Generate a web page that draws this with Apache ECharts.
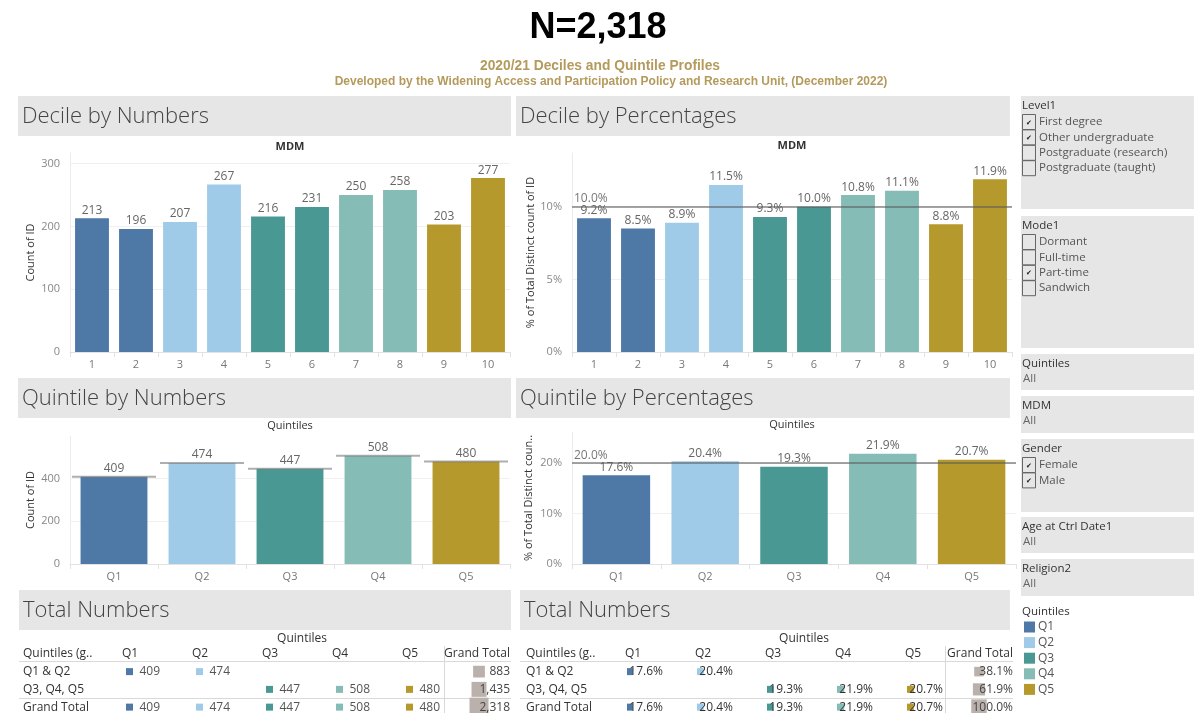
<!DOCTYPE html>
<html>
<head>
<meta charset="utf-8">
<script src="https://cdn.jsdelivr.net/npm/echarts@6/dist/echarts.min.js"></script>
<style>
html, body { margin: 0; padding: 0; background: #fff; }
#main { width: 1194px; height: 713px; }
</style>
</head>
<body>
<div id="main"></div>
<script>
// data
var deciles = ['1', '2', '3', '4', '5', '6', '7', '8', '9', '10'];
var decileCounts = [213, 196, 207, 267, 216, 231, 250, 258, 203, 277];
var decilePct = [9.2, 8.5, 8.9, 11.5, 9.3, 10.0, 10.8, 11.1, 8.8, 11.9];
var decileAvgPct = 10.0;

var quintiles = ['Q1', 'Q2', 'Q3', 'Q4', 'Q5'];
var quintileCounts = [409, 474, 447, 508, 480];
var quintilePct = [17.6, 20.4, 19.3, 21.9, 20.7];
var quintileAvgPct = 20.0;
var quintileColors = ['#4e79a7', '#a0cbe8', '#499894', '#86bcb6', '#b6992d'];

var groupRows = ['Q1 & Q2', 'Q3, Q4, Q5', 'Grand Total'];
var groupMembers = [[0, 1], [2, 3, 4], [0, 1, 2, 3, 4]];
var groupCounts = [883, 1435, 2318];
var groupPct = [38.1, 61.9, 100.0];

var tableCols = ['', 'Q1', 'Q2', 'Q3', 'Q4', 'Q5', 'Grand Total'];
var tableRows = ['head'].concat(groupRows);

var FONT = '"Open Sans", sans-serif';
var myChart = echarts.init(document.getElementById('main'));

function decileColor(p) { return quintileColors[Math.floor(p.dataIndex / 2)]; }
function quintileColor(p) { return quintileColors[p.dataIndex]; }
function pct(v) { return v.toFixed(1) + '%'; }

// table cells for the two "Total Numbers" tables
function buildTable(isPct) {
    var cells = [];
    cells.push({ value: [0, 0], kind: 'rowhead', text: 'Quintiles (g..' });
    quintiles.forEach(function (q, i) {
        cells.push({ value: [i + 1, 0], kind: 'colhead', text: q });
    });
    cells.push({ value: [6, 0], kind: 'gthead', text: 'Grand Total' });
    groupRows.forEach(function (r, ri) {
        cells.push({ value: [0, ri + 1], kind: 'rowhead', text: r });
        groupMembers[ri].forEach(function (qi) {
            cells.push({
                value: [qi + 1, ri + 1],
                kind: isPct ? 'pct' : 'count',
                text: isPct ? pct(quintilePct[qi]) : String(quintileCounts[qi]),
                color: quintileColors[qi],
                v: isPct ? quintilePct[qi] : quintileCounts[qi]
            });
        });
        cells.push({
            value: [6, ri + 1],
            kind: 'total',
            text: isPct ? pct(groupPct[ri]) : groupCounts[ri].toLocaleString('en-US'),
            v: groupCounts[ri]
        });
    });
    return cells;
}

function tableRenderer(cells, maxSquare, squareOffset) {
    return function (params, api) {
        var cell = cells[params.dataIndex];
        var c = api.coord([api.value(0), api.value(1)]);
        var bw = api.size([1, 1])[0];
        var left = c[0] - bw / 2, right = c[0] + bw / 2, y = c[1];
        function t(x, text, align, fill) {
            return { type: 'text', style: { x: x, y: y, text: text, textAlign: align, fill: fill, fontSize: 12, fontFamily: FONT, textVerticalAlign: 'middle' } };
        }
        var kids = [];
        if (cell.kind === 'rowhead') {
            kids.push(t(left + 2, cell.text, 'left', '#333'));
        } else if (cell.kind === 'colhead') {
            kids.push(t(left + 31, cell.text, 'left', '#333'));
        } else if (cell.kind === 'gthead') {
            kids.push(t(right - 1, cell.text, 'right', '#333'));
        } else if (cell.kind === 'count') {
            kids.push({ type: 'rect', shape: { x: right - 35, y: y - 3.5, width: 7, height: 7 }, style: { fill: cell.color } });
            kids.push(t(right - 1, cell.text, 'right', '#555'));
        } else if (cell.kind === 'pct') {
            kids.push({ type: 'rect', shape: { x: right - 37, y: y - 3.5, width: cell.v * 0.33, height: 7 }, style: { fill: cell.color } });
            kids.push(t(right - 1, cell.text, 'right', '#333'));
        } else if (cell.kind === 'total') {
            var s = maxSquare * Math.sqrt(cell.v / groupCounts[2]);
            kids.push({ type: 'rect', shape: { x: right - squareOffset - s / 2, y: y - s / 2, width: s, height: s }, style: { fill: '#bab0ac' } });
            kids.push(t(right - 1, cell.text, 'right', '#444'));
        }
        return { type: 'group', children: kids };
    };
}

var leftCells = buildTable(false);
var rightCells = buildTable(true);

// per-cell reference line in Quintile by Numbers
function cellLine(params, api) {
    var c = api.coord([api.value(0), api.value(1)]);
    var w = api.size([1, 0])[0];
    return {
        type: 'line',
        shape: { x1: c[0] - w / 2 + 2, y1: c[1], x2: c[0] + w / 2 - 2, y2: c[1] },
        style: { stroke: 'rgba(120,120,120,0.6)', lineWidth: 2 }
    };
}

function catAxis(gridIndex, data) {
    return {
        type: 'category', gridIndex: gridIndex, data: data,
        axisLine: { lineStyle: { color: '#e2e2e2' } },
        axisTick: { show: true, length: 5, lineStyle: { color: '#e2e2e2' } },
        axisLabel: { color: '#777', fontSize: 11, fontFamily: FONT, margin: 7 }
    };
}
function valAxis(gridIndex, max, interval, name, nameGap, isPct) {
    return {
        type: 'value', gridIndex: gridIndex, min: 0, max: max, interval: interval,
        name: name, nameLocation: 'middle', nameGap: nameGap,
        nameTextStyle: { color: '#333', fontSize: 11, fontFamily: FONT },
        axisLine: { show: true, lineStyle: { color: '#ececec' } },
        axisTick: { show: false },
        axisLabel: {
            color: '#888', fontSize: 11, fontFamily: FONT, margin: 10, showMaxLabel: false,
            formatter: function (v) { return isPct ? v + '%' : v; }
        },
        splitLine: { showMaxLine: false, lineStyle: { color: '#f0f0f0' } }
    };
}
function refLine(avg) {
    return {
        silent: true, symbol: 'none',
        lineStyle: { color: 'rgba(90,90,90,0.55)', width: 2, type: 'solid' },
        label: { position: 'insideStartTop', distance: 2, color: '#777', fontSize: 12, fontFamily: FONT, formatter: function () { return pct(avg); } },
        data: [{ yAxis: avg }]
    };
}
var barLabel = { show: true, position: 'top', distance: 2, color: '#666', fontSize: 12, fontFamily: FONT };

// dashboard furniture: headers, filters, legend
var graphics = [];
function addText(x, y, text, size, color, extra) {
    graphics.push({ type: 'text', x: x, y: y, style: echarts.util.extend({ text: text, fontSize: size, fontFamily: FONT, fill: color, textVerticalAlign: 'middle' }, extra || {}) });
}
function addRect(x, y, w, h, fill) {
    graphics.push({ type: 'rect', shape: { x: x, y: y, width: w, height: h }, style: { fill: fill }, z: -1 });
}
function addLine(x1, y1, x2, y2) {
    graphics.push({ type: 'line', shape: { x1: x1, y1: y1, x2: x2, y2: y2 }, style: { stroke: '#d9d9d9', lineWidth: 1 } });
}

var ARIAL = '"Liberation Sans", Arial, sans-serif';
addText(598, 28, 'N=2,318', 36, '#000', { fontFamily: ARIAL, fontWeight: 'bold', textAlign: 'center' });
addText(600, 66, '2020/21 Deciles and Quintile Profiles', 13.8, '#b49a5c', { fontFamily: ARIAL, fontWeight: 'bold', textAlign: 'center' });
addText(611, 82, 'Developed by the Widening Access and Participation Policy and Research Unit, (December 2022)', 12, '#b49a5c', { fontFamily: ARIAL, fontWeight: 'bold', textAlign: 'center' });

var headers = [
    [18, 96, 493, 'Decile by Numbers'], [516, 96, 494, 'Decile by Percentages'],
    [18, 378, 493, 'Quintile by Numbers'], [516, 378, 494, 'Quintile by Percentages'],
    [19, 590, 492, 'Total Numbers'], [520, 590, 490, 'Total Numbers']
];
headers.forEach(function (h) {
    addRect(h[0], h[1], h[2], 40, '#e6e6e6');
    addText(h[0] + 4, h[1] + 21, h[3], 22, '#444', { fontWeight: 300 });
});
addText(290, 147, 'MDM', 11, '#333', { textAlign: 'center', fontWeight: 'bold' });
addText(792, 146, 'MDM', 11, '#333', { textAlign: 'center', fontWeight: 'bold' });
addText(290, 426, 'Quintiles', 11, '#333', { textAlign: 'center' });
addText(792, 425, 'Quintiles', 11, '#333', { textAlign: 'center' });
addText(302, 639, 'Quintiles', 12, '#333', { textAlign: 'center' });
addText(804, 639, 'Quintiles', 12, '#333', { textAlign: 'center' });
// table rules
addLine(19, 661.5, 511, 661.5); addLine(19, 698.5, 511, 698.5); addLine(444.5, 646, 444.5, 713);
addLine(520, 661.5, 1013, 661.5); addLine(520, 698.5, 1013, 698.5); addLine(945.5, 646, 945.5, 713);

function filterPanel(y, h, title, rows) {
    addRect(1021, y, 173, h, '#e6e6e6');
    addText(1022, y + 9.5, title, 11.5, '#333');
    rows.forEach(function (r, i) {
        var cy = y + 26 + i * 15.4;
        if (r.all) {
            addText(1023, y + 25, 'All', 11.5, '#666');
            return;
        }
        graphics.push({ type: 'rect', shape: { x: 1022.5, y: cy - 7.5, width: 13, height: 15 }, style: { fill: 'none', stroke: '#666', lineWidth: 1 } });
        if (r.on) addText(1029, cy + 0.5, '\u2714', 7, '#222', { textAlign: 'center' });
        addText(1039, cy, r.label, 11.5, '#555');
    });
}
filterPanel(96, 113, 'Level1', [
    { label: 'First degree', on: true }, { label: 'Other undergraduate', on: true },
    { label: 'Postgraduate (research)' }, { label: 'Postgraduate (taught)' }
]);
filterPanel(216, 132, 'Mode1', [
    { label: 'Dormant' }, { label: 'Full-time' }, { label: 'Part-time', on: true }, { label: 'Sandwich' }
]);
filterPanel(354, 36, 'Quintiles', [{ all: true }]);
filterPanel(396, 37, 'MDM', [{ all: true }]);
filterPanel(439, 73, 'Gender', [{ label: 'Female', on: true }, { label: 'Male', on: true }]);
filterPanel(517, 36, 'Age at Ctrl Date1', [{ all: true }]);
filterPanel(559, 37, 'Religion2', [{ all: true }]);

addText(1022, 612, 'Quintiles', 11.5, '#333');
quintiles.forEach(function (q, i) {
    var cy = 627 + i * 15.6;
    graphics.push({ type: 'rect', shape: { x: 1024, y: cy - 5.5, width: 11, height: 11 }, style: { fill: quintileColors[i] } });
    addText(1038, cy, q, 12, '#555');
});

var option = {
    animation: false,
    textStyle: { fontFamily: FONT },
    graphic: graphics,
    grid: [
        { left: 70, right: 684, top: 153, bottom: 361 },
        { left: 572, right: 182, top: 153, bottom: 361 },
        { left: 70, right: 684, top: 436, bottom: 149 },
        { left: 572, right: 178, top: 432, bottom: 149 },
        { left: 21, width: 490, top: 645, height: 71, outerBoundsMode: 'none' },
        { left: 524, width: 490, top: 645, height: 71, outerBoundsMode: 'none' }
    ],
    xAxis: [
        catAxis(0, deciles), catAxis(1, deciles), catAxis(2, quintiles), catAxis(3, quintiles),
        { type: 'category', gridIndex: 4, data: tableCols, show: false },
        { type: 'category', gridIndex: 5, data: tableCols, show: false }
    ],
    yAxis: [
        valAxis(0, 317, 100, 'Count of ID', 34, false),
        valAxis(1, 13.7, 5, '% of Total Distinct count of ID', 36, true),
        valAxis(2, 600, 200, 'Count of ID', 34, false),
        valAxis(3, 26.2, 10, '% of Total Distinct coun..', 38, true),
        { type: 'category', gridIndex: 4, data: tableRows, inverse: true, show: false },
        { type: 'category', gridIndex: 5, data: tableRows, inverse: true, show: false }
    ],
    series: [
        {
            name: 'Decile count', type: 'bar', xAxisIndex: 0, yAxisIndex: 0, barWidth: '77%',
            itemStyle: { color: decileColor }, label: barLabel, data: decileCounts
        },
        {
            name: 'Decile pct', type: 'bar', xAxisIndex: 1, yAxisIndex: 1, barWidth: '77%',
            itemStyle: { color: decileColor },
            label: echarts.util.extend({ formatter: function (p) { return pct(p.value); } }, barLabel),
            markLine: refLine(decileAvgPct), data: decilePct
        },
        {
            name: 'Quintile count', type: 'bar', xAxisIndex: 2, yAxisIndex: 2, barWidth: '76%',
            itemStyle: { color: quintileColor }, label: barLabel, data: quintileCounts
        },
        {
            name: 'Quintile cell line', type: 'custom', xAxisIndex: 2, yAxisIndex: 2, silent: true, z: 3,
            renderItem: cellLine,
            data: quintileCounts.map(function (v, i) { return [i, v]; })
        },
        {
            name: 'Quintile pct', type: 'bar', xAxisIndex: 3, yAxisIndex: 3, barWidth: '76%',
            itemStyle: { color: quintileColor },
            label: echarts.util.extend({ formatter: function (p) { return pct(p.value); } }, barLabel),
            markLine: refLine(quintileAvgPct), data: quintilePct
        },
        {
            name: 'Totals', type: 'custom', xAxisIndex: 4, yAxisIndex: 4, silent: true,
            renderItem: tableRenderer(leftCells, 19, 32), data: leftCells
        },
        {
            name: 'Totals pct', type: 'custom', xAxisIndex: 5, yAxisIndex: 5, silent: true,
            renderItem: tableRenderer(rightCells, 15.5, 35), data: rightCells
        }
    ]
};
myChart.setOption(option);
</script>
</body>
</html>
